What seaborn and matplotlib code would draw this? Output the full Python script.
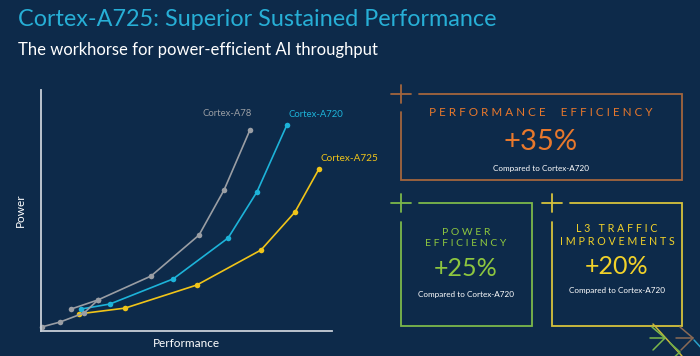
import matplotlib

matplotlib.use('Agg')
import matplotlib.pyplot as plt
import pandas as pd
import seaborn as sns

# curve points (performance, power) in 0-100 chart units
a78_perf = [0.3, 6.5, 14.8, 19.6, 37.8, 54.3, 62.9, 71.8]
a78_power = [1.7, 3.7, 7.5, 12.9, 22.8, 39.8, 58.5, 83.4]
a78_hook_perf = [10.3, 19.6]
a78_hook_power = [9.1, 12.9]
a720_perf = [13.7, 23.7, 45.4, 64.3, 74.2, 84.5]
a720_power = [9.1, 11.2, 21.6, 38.6, 57.7, 85.5]
a725_perf = [13.1, 28.9, 53.6, 75.6, 87.3, 95.5]
a725_power = [7.1, 9.5, 19.1, 33.6, 49.4, 67.2]

cards = ['PERFORMANCE  EFFICIENCY', 'POWER\nEFFICIENCY', 'L3 TRAFFIC\nIMPROVEMENTS']
card_values = ['+35%', '+25%', '+20%']
card_note = 'Compared to Cortex-A720'

BG = '#0d2a4a'
GREY = '#9a9ea4'
BLUE = '#1db3d9'
YELLOW = '#f0c419'

sns.set_theme(style='white')
plt.rcParams['font.family'] = ['Lato', 'DejaVu Sans']

fig = plt.figure(figsize=(7, 3.56), dpi=100, facecolor=BG)

# chart area
ax = fig.add_axes([41 / 700, 25 / 356, 291 / 700, 241 / 356])
ax.set_facecolor(BG)

series = [('Cortex-A725', a725_perf, a725_power, YELLOW),
          ('Cortex-A720', a720_perf, a720_power, BLUE),
          ('Cortex-A78', a78_hook_perf, a78_hook_power, GREY),
          ('Cortex-A78', a78_perf, a78_power, GREY)]
for name, xs, ys, col in series:
    df = pd.DataFrame({'Performance': xs, 'Power': ys})
    sns.lineplot(data=df, x='Performance', y='Power', ax=ax, sort=False,
                 estimator=None, color=col, linewidth=1.2, marker='o',
                 markersize=4, markeredgewidth=0, clip_on=False)

ax.set_xlim(0, 100)
ax.set_ylim(0, 100)
ax.set_xticks([])
ax.set_yticks([])
for s in ['top', 'right']:
    ax.spines[s].set_visible(False)
for s in ['left', 'bottom']:
    ax.spines[s].set_color('#c9d0d8')
    ax.spines[s].set_linewidth(1.3)
ax.set_xlabel('Performance', color='white', fontsize=8.5, labelpad=5)
ax.set_ylabel('Power', color='white', fontsize=8.5, labelpad=11)

ax.text(a78_perf[-1] + 0.5, a78_power[-1] + 5, 'Cortex-A78', color=GREY,
        fontsize=6.8, ha='right', va='bottom')
ax.text(a720_perf[-1] + 0.5, a720_power[-1] + 2.5, 'Cortex-A720', color=BLUE,
        fontsize=6.8, ha='left', va='bottom')
ax.text(a725_perf[-1] + 0.5, a725_power[-1] + 2.5, 'Cortex-A725', color=YELLOW,
        fontsize=7.2, ha='left', va='bottom')

# overlay in pixel coordinates for titles and cards
ov = fig.add_axes([0, 0, 1, 1], facecolor='none')
ov.set_xlim(0, 700)
ov.set_ylim(356, 0)
ov.axis('off')

ov.text(18, 20, 'Cortex-A725: Superior Sustained Performance', color='#27afd6',
        fontsize=16.8, ha='left', va='center')
ov.text(18, 50, 'The workhorse for power-efficient AI throughput', color='white',
        fontsize=12, ha='left', va='center')


def spaced(t):
    return '\n'.join(' '.join(list(line)) for line in t.split('\n'))


def card(x0, y0, x1, y1, col, gap_x, gap_y):
    lw = 1.3
    ov.plot([gap_x, x1, x1, x0, x0], [y0, y0, y1, y1, gap_y], color=col, lw=lw,
            solid_joinstyle='miter')
    ov.plot([x0 - 10, x0 + 10], [y0, y0], color=col, lw=lw)
    ov.plot([x0, x0], [y0 - 9, y0 + 9], color=col, lw=lw)


card(401, 94, 682, 180, '#a3653d', 419, 112)
card(401, 203, 532, 326, '#7cb84a', 419, 222)
card(552, 203, 682, 326, '#d6c23c', 570, 222)

ORANGE = '#e8782c'
GREEN = '#8dc63f'
GOLD = '#f2d22a'
ov.text(541, 113, spaced(cards[0]), color=ORANGE, fontsize=8.4, ha='center',
        va='center')
ov.text(541, 142, card_values[0], color=ORANGE, fontsize=21,
        ha='center', va='center')
ov.text(541, 169, card_note, color='white', fontsize=5.9, ha='center', va='center')

ov.text(466, 238, spaced(cards[1]), color=GREEN, fontsize=7.5, ha='center',
        va='center', linespacing=1.25)
ov.text(466, 269, card_values[1], color=GREEN, fontsize=18, ha='center', va='center')
ov.text(466, 294, card_note, color='white', fontsize=5.9, ha='center', va='center')

ov.text(617, 235, spaced(cards[2]), color=GOLD, fontsize=7.7, ha='center',
        va='center', linespacing=1.25)
ov.text(617, 267, card_values[2], color=GOLD, fontsize=18, ha='center', va='center')
ov.text(617, 291, card_note, color='white', fontsize=5.9, ha='center', va='center')

# decorative chevrons in the corner
ov.plot([653, 682], [324, 356], color='#c9b83a', lw=1.1)
ov.plot([652, 665, 653], [327, 338, 350], color='#7cb84a', lw=1.1)
ov.plot([650, 665], [338, 338], color='#7cb84a', lw=1.1)
ov.plot([680, 693, 681], [327, 338, 350], color='#8a6a55', lw=1.1)
ov.plot([676, 693], [338, 338], color='#8a6a55', lw=1.1)
ov.plot([670, 680, 670], [343, 352, 361], color='#6fae4a', lw=1.1)
ov.plot([694, 705], [340, 352], color='#2a9fc8', lw=1.1)

fig.savefig('out.png', dpi=100, facecolor=BG)
